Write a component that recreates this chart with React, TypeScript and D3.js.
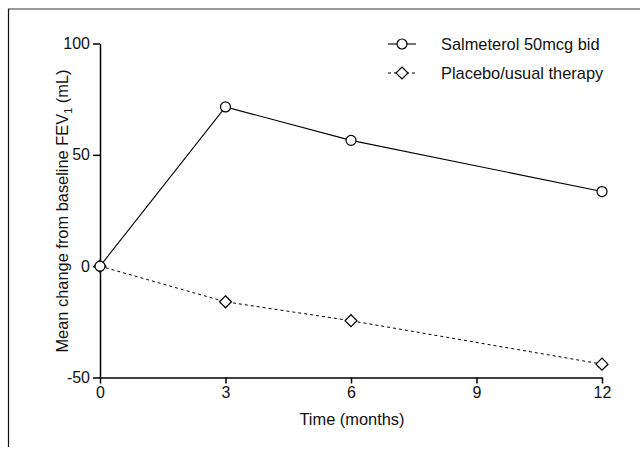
import React, { useEffect, useRef } from 'react';
import * as d3 from 'd3';

const months = [0, 3, 6, 12];
const salmeterol = [0, 71.5, 56.5, 33.5];
const placebo = [0, -16, -24.5, -44];
const xTicks = [0, 3, 6, 9, 12];
const yTicks = [-50, 0, 50, 100];
const seriesNames = ['Salmeterol 50mcg bid', 'Placebo/usual therapy'];

const App = () => {
    const chartRef = useRef<SVGSVGElement>(null);

    useEffect(() => {
        const svg = d3.select(chartRef.current);
        svg.selectAll('*').remove();
        const font = 'Liberation Sans, Arial, sans-serif';

        // frame around figure
        svg.append('line').attr('x1', 8).attr('x2', 640).attr('y1', 9).attr('y2', 9)
            .attr('stroke', '#777').attr('stroke-width', 1.5);
        svg.append('line').attr('x1', 8.5).attr('x2', 8.5).attr('y1', 9).attr('y2', 447)
            .attr('stroke', '#111').attr('stroke-width', 1.2);

        const x = d3.scaleLinear().domain([0, 12]).range([100, 602]);
        const y = d3.scaleLinear().domain([-50, 100]).range([377.5, 43.5]);

        const xAxis = svg.append('g')
            .attr('transform', `translate(0,${y(-50)})`)
            .call(d3.axisBottom(x).tickValues(xTicks).tickFormat(d => String(d))
                .tickSize(6).tickPadding(3).tickSizeOuter(0));
        const yAxis = svg.append('g')
            .attr('transform', `translate(${x(0)},0)`)
            .call(d3.axisLeft(y).tickValues(yTicks).tickFormat(d => String(d))
                .tickSize(7).tickPadding(3).tickSizeOuter(0));
        [xAxis, yAxis].forEach(g => {
            g.select('.domain').attr('stroke', '#000').attr('stroke-width', 1.5);
            g.selectAll('.tick line').attr('stroke', '#000').attr('stroke-width', 1.5);
            g.selectAll('.tick text').attr('fill', '#111').style('font-family', font).style('font-size', '16px');
        });

        const line = d3.line<number>().x((d, i) => x(months[i])).y(d => y(d));

        svg.append('path').datum(placebo).attr('d', line).attr('fill', 'none')
            .attr('stroke', '#000').attr('stroke-width', 1).attr('stroke-dasharray', '3,3');
        svg.append('path').datum(salmeterol).attr('d', line).attr('fill', 'none')
            .attr('stroke', '#000').attr('stroke-width', 1.1);

        const diamond = (cx: number, cy: number, r: number) =>
            `M${cx},${cy - r}L${cx + r},${cy}L${cx},${cy + r}L${cx - r},${cy}Z`;

        svg.selectAll('.dia').data(placebo).enter().append('path')
            .attr('d', (d, i) => diamond(x(months[i]), y(d), 6))
            .attr('fill', '#fff').attr('stroke', '#000').attr('stroke-width', 1.2);
        svg.selectAll('.circ').data(salmeterol).enter().append('circle')
            .attr('cx', (d, i) => x(months[i])).attr('cy', d => y(d)).attr('r', 5)
            .attr('fill', '#fff').attr('stroke', '#000').attr('stroke-width', 1.2);

        // legend
        const leg = svg.append('g');
        seriesNames.forEach((name, i) => {
            const ly = 44 + i * 29;
            leg.append('line').attr('x1', 388).attr('x2', 416).attr('y1', ly).attr('y2', ly)
                .attr('stroke', '#000').attr('stroke-width', 1.1)
                .attr('stroke-dasharray', i === 1 ? '3,3' : null);
            if (i === 0) {
                leg.append('circle').attr('cx', 402).attr('cy', ly).attr('r', 5)
                    .attr('fill', '#fff').attr('stroke', '#000').attr('stroke-width', 1.2);
            } else {
                leg.append('path').attr('d', diamond(402, ly, 6))
                    .attr('fill', '#fff').attr('stroke', '#000').attr('stroke-width', 1.2);
            }
            leg.append('text').attr('x', 441).attr('y', ly + 6).text(name)
                .style('font-family', font).style('font-size', '16.4px').attr('fill', '#111');
        });

        svg.append('text').attr('x', 352).attr('y', 425).attr('text-anchor', 'middle')
            .style('font-family', font).style('font-size', '16.4px').attr('fill', '#111')
            .text('Time (months)');

        const yl = svg.append('text').attr('transform', 'translate(68,211) rotate(-90)')
            .attr('text-anchor', 'middle')
            .style('font-family', font).style('font-size', '16.4px').attr('fill', '#111');
        yl.append('tspan').text('Mean change from baseline FEV');
        yl.append('tspan').attr('dy', 4).style('font-size', '11px').text('1');
        yl.append('tspan').attr('dy', -4).text(' (mL)');
    }, []);

    return (
        <svg ref={chartRef} width={640} height={449}
            style={{ position: 'absolute', left: 0, top: 0, background: '#fff' }} />
    );
};

export default App;
